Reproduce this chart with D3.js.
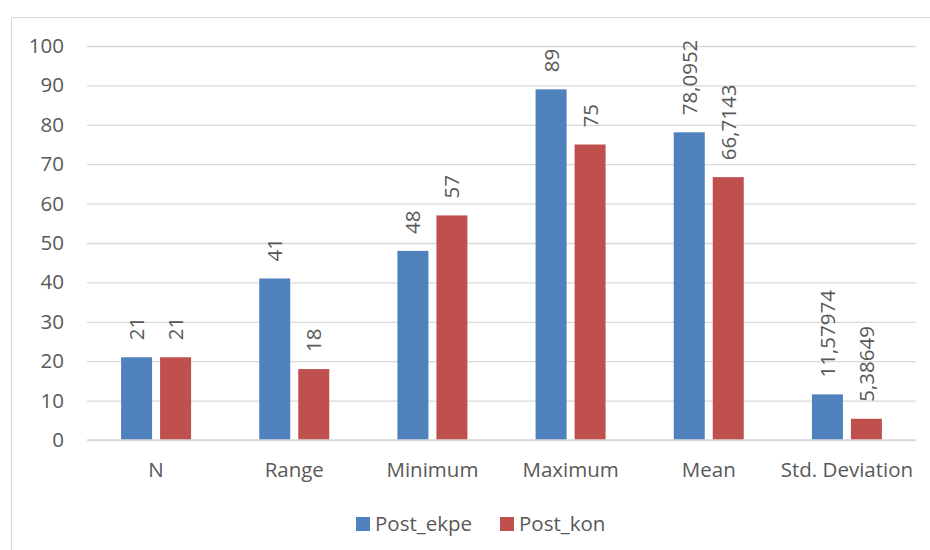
<!DOCTYPE html>
<html><head><meta charset="utf-8">
<script src="https://cdn.jsdelivr.net/npm/d3@7"></script>
<style>body{margin:0;background:#fff;} svg{display:block;}</style>
</head><body>
<svg id="c" width="930" height="550"></svg>
<script>
const categories = ["N","Range","Minimum","Maximum","Mean","Std. Deviation"];
const seriesNames = ["Post_ekpe","Post_kon"];
const postEkpe = [21,41,48,89,78.0952,11.57974];
const postKon = [21,18,57,75,66.7143,5.38649];
const labelsEkpe = ["21","41","48","89","78,0952","11,57974"];
const labelsKon = ["21","18","57","75","66,7143","5,38649"];
const yTicks = [0,10,20,30,40,50,60,70,80,90,100];
const colors = ["#4F81BD","#C0504D"];

(function(){
const svg = d3.select("#c");
const font = "'Open Sans', 'Liberation Sans', sans-serif";
const txt = "#595959";
const fs = "20.5px";
svg.append("rect").attr("x",11.5).attr("y",17.5).attr("width",930).attr("height",540)
  .attr("fill","none").attr("stroke","#d9d9d9").attr("stroke-width",1);

const pL=87, pR=916, pT=46, pB=440;
const x0 = d3.scaleBand().domain(categories).range([pL,pR]).paddingInner(0).paddingOuter(0);
const x1 = d3.scaleBand().domain(seriesNames).range([0,x0.bandwidth()]).paddingInner(0.205).paddingOuter(0.874);
const y = d3.scaleLinear().domain([0,100]).range([pB,pT]);

const gy = svg.append("g").attr("transform",`translate(${pL},0)`)
  .call(d3.axisLeft(y).tickValues(yTicks).tickSize(-(pR-pL)).tickFormat(d3.format("d")));
gy.select(".domain").remove();
gy.selectAll(".tick line").attr("stroke","#d9d9d9").attr("stroke-width",1.3);
gy.selectAll(".tick text").attr("x",-23).attr("fill",txt).style("font-family",font).style("font-size",fs);

const gx = svg.append("g").attr("transform",`translate(0,${pB})`)
  .call(d3.axisBottom(x0).tickSize(0));
gx.select(".domain").remove();
gx.selectAll(".tick text").attr("fill",txt).style("font-family",font).style("font-size",fs).attr("y",37).attr("dy",0);

const data = [postEkpe, postKon];
const labels = [labelsEkpe, labelsKon];
seriesNames.forEach((s,si)=>{
  const g = svg.append("g");
  g.selectAll("rect").data(categories).join("rect")
    .attr("x",c=>x0(c)+x1(s)).attr("width",x1.bandwidth())
    .attr("y",(c,i)=>y(data[si][i])).attr("height",(c,i)=>y(0)-y(data[si][i]))
    .attr("fill",colors[si]);
  g.selectAll("text").data(categories).join("text")
    .attr("transform",(c,i)=>`translate(${x0(c)+x1(s)+x1.bandwidth()/2+7.5},${y(data[si][i])-17}) rotate(-90)`)
    .attr("fill",txt).style("font-family",font).style("font-size",fs)
    .text((c,i)=>labels[si][i]);
});
svg.append("line").attr("x1",pL).attr("x2",pR).attr("y1",y(0)).attr("y2",y(0)).attr("stroke","#d9d9d9").attr("stroke-width",1.3);

const leg = svg.append("g");
const lx = [356, 500];
seriesNames.forEach((s,i)=>{
  leg.append("rect").attr("x",lx[i]).attr("y",517).attr("width",14).attr("height",14).attr("fill",colors[i]);
  leg.append("text").attr("x",lx[i]+19).attr("y",531).attr("fill",txt).style("font-family",font).style("font-size",fs).text(s);
});
})();
</script>
</body></html>
